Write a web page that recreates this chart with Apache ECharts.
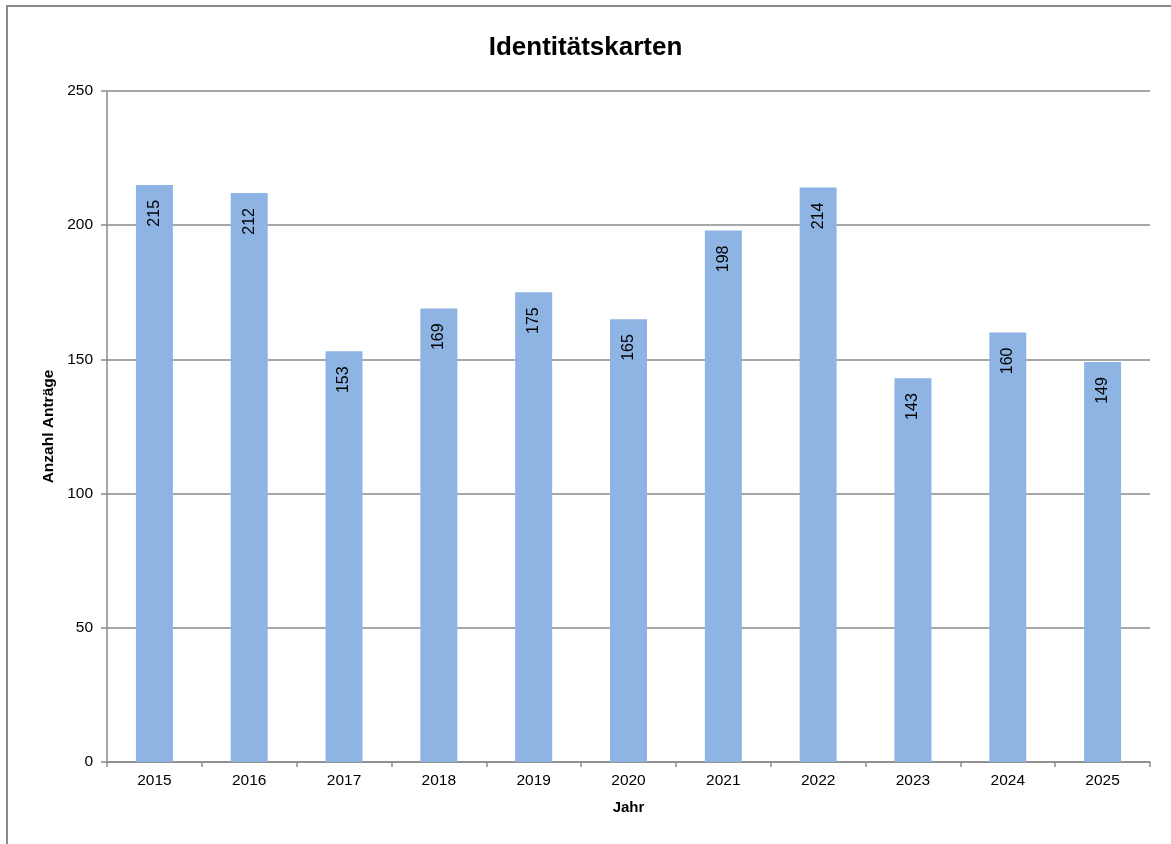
<!DOCTYPE html>
<html>
<head>
<meta charset="utf-8">
<script src="https://cdn.jsdelivr.net/npm/echarts@6/dist/echarts.min.js"></script>
<style>
html,body{margin:0;padding:0;background:#fff;}
#chart{width:1171px;height:844px;}
</style>
</head>
<body>
<div id="chart"></div>
<script>
const categories = ['2015','2016','2017','2018','2019','2020','2021','2022','2023','2024','2025'];
const values = [215, 212, 153, 169, 175, 165, 198, 214, 143, 160, 149];
const yTicks = { min: 0, max: 250, interval: 50 };

const FONT = '"Liberation Sans", Arial, sans-serif';
const chart = echarts.init(document.getElementById('chart'), null, { renderer: 'canvas' });
chart.setOption({
  animation: false,
  backgroundColor: '#fff',
  title: {
    text: 'Identitätskarten',
    left: 'center',
    top: 30,
    textStyle: { fontFamily: FONT, fontSize: 26, fontWeight: 'bold', color: '#000' }
  },
  graphic: [{
    type: 'rect',
    shape: { x: 7, y: 6, width: 1300, height: 1000 },
    style: { fill: 'none', stroke: '#8a8a8a', lineWidth: 2 },
    silent: true
  }],
  grid: { left: 107, right: 21, top: 91, bottom: 82, containLabel: false },
  xAxis: {
    type: 'category',
    data: categories,
    name: 'Jahr',
    nameLocation: 'middle',
    nameGap: 38,
    nameTextStyle: { fontFamily: FONT, fontSize: 15, fontWeight: 'bold', color: '#000' },
    axisLine: { lineStyle: { color: '#8a8a8a', width: 1.5 } },
    axisTick: { show: true, length: 5, lineStyle: { color: '#8a8a8a', width: 1.5 } },
    axisLabel: { fontFamily: FONT, fontSize: 15.5, color: '#000', margin: 11 }
  },
  yAxis: {
    type: 'value',
    min: yTicks.min, max: yTicks.max, interval: yTicks.interval,
    name: 'Anzahl Anträge',
    nameLocation: 'middle',
    nameGap: 50,
    nameTextStyle: { fontFamily: FONT, fontSize: 15.5, fontWeight: 'bold', color: '#000' },
    axisLine: { show: true, lineStyle: { color: '#8a8a8a', width: 1.5 } },
    axisTick: { show: true, length: 6, lineStyle: { color: '#8a8a8a', width: 1.5 } },
    axisLabel: { fontFamily: FONT, fontSize: 15.5, color: '#000', margin: 14 },
    splitLine: { show: true, lineStyle: { color: '#8a8a8a', width: 1.5 } }
  },
  series: [{
    type: 'bar',
    data: values,
    barWidth: '39%',
    itemStyle: { color: '#8EB4E3' },
    label: {
      show: true,
      position: 'insideTop',
      rotate: 90,
      align: 'right',
      verticalAlign: 'middle',
      distance: 15,
      fontFamily: FONT,
      fontSize: 16,
      color: '#000'
    }
  }]
});
</script>
</body>
</html>
